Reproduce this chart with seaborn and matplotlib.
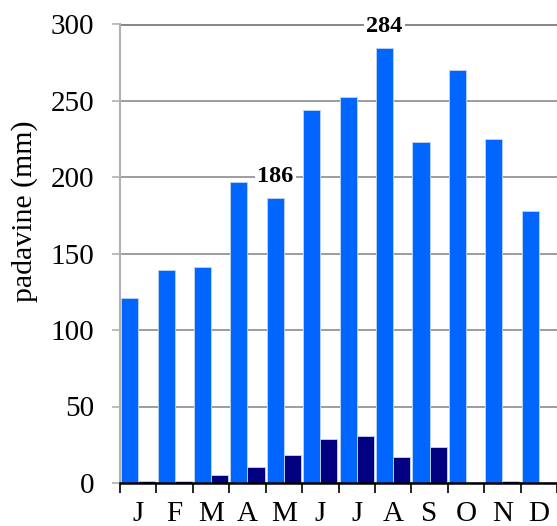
import matplotlib
matplotlib.use("Agg")
import matplotlib.pyplot as plt
import seaborn as sns
import pandas as pd
import numpy as np

months = ["J", "F", "M", "A", "M", "J", "J", "A", "S", "O", "N", "D"]
total_precip = [121, 139, 141, 197, 186, 244, 252, 284, 223, 270, 225, 178]
snow_precip = [1, 1, 5, 10.5, 18, 28.5, 31, 17, 23.5, 0.5, 1, 0.5]
series_names = ["total", "snow"]
annotated = {4: "186", 7: "284"}

sns.set_theme(style="white")
plt.rcParams['font.family'] = ['Liberation Serif', 'DejaVu Serif']
plt.rcParams['text.color'] = 'black'
plt.rcParams['xtick.color'] = 'black'
plt.rcParams['ytick.color'] = 'black'
plt.rcParams['axes.labelcolor'] = 'black'

n = len(months)
df = pd.DataFrame({
    "pos": list(range(n)) * 2,
    "value": total_precip + snow_precip,
    "series": [series_names[0]] * n + [series_names[1]] * n,
})

fig = plt.figure(figsize=(5.57, 5.26), dpi=100)
ax = fig.add_axes([120/557, 43/526, 1 - 120/557, 459/526])

sns.barplot(data=df, x="pos", y="value", hue="series", hue_order=series_names,
            palette=["#0066FF", "#000080"], saturation=1, width=0.94, ax=ax,
            edgecolor="#b8cff0", linewidth=0.7, legend=False, errorbar=None,
            order=list(range(n)))

ax.set_ylim(0, 300)
ax.set_xlim(-0.5, n - 0.5)
ax.set_yticks(range(0, 301, 50))
ax.tick_params(axis="y", labelsize=21, length=6, width=1.2, color="#b0b0b0", labelcolor="black",
               direction="out", pad=12.5, left=True)
ax.yaxis.grid(True, color="#8c8c8c", linewidth=1.2)
ax.set_axisbelow(True)
ax.axhline(300, color="#7a7a7a", linewidth=2, zorder=0.5)

ax.set_xticks(range(n))
ax.set_xticklabels(months)
ax.set_xticks(np.arange(-0.5, n, 1), minor=True)
ax.tick_params(axis="x", which="major", length=0, labelsize=21, pad=13, labelcolor="black")
ax.tick_params(axis="x", which="minor", length=7, width=1.2, color="black", direction="out", bottom=True)
ax.set_xlabel("")
ax.set_ylabel("padavine (mm)", fontsize=21.5, color="black")
ax.yaxis.set_label_coords(-0.188, 0.593)

for side in ["top", "right"]:
    ax.spines[side].set_visible(False)
ax.spines["left"].set_color("#b0b0b0")
ax.spines["left"].set_linewidth(1.5)
ax.spines["bottom"].set_color("black")
ax.spines["bottom"].set_linewidth(1.8)

for idx, txt in annotated.items():
    xpos = idx - 0.235
    ypos = total_precip[idx]
    ax.annotate(txt, xy=(xpos, ypos), xytext=(0, 8), textcoords="offset points",
                ha="center", va="bottom", fontsize=17.5, fontweight="bold", color="black",
                bbox=dict(facecolor="white", edgecolor="none", pad=2))

fig.savefig("out.png", dpi=100)
